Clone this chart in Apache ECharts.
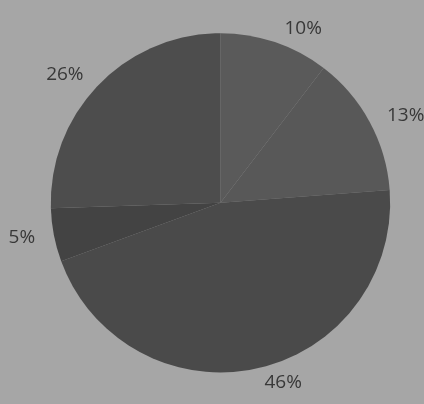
<!DOCTYPE html>
<html>
<head>
<meta charset="utf-8">
<script src="https://cdn.jsdelivr.net/npm/echarts@6/dist/echarts.min.js"></script>
<style>
html,body{margin:0;padding:0;background:#a6a6a6;}
#chart{width:424px;height:404px;}
</style>
</head>
<body>
<div id="chart"></div>
<script>
// Data (shares of the whole, labels show rounded %)
const categories = ['A', 'B', 'C', 'D', 'E'];
const values = [10.4, 13.4, 45.6, 5.1, 25.5];
const sliceColors = ['#5a5a5a', '#585858', '#4a4a4a', '#434343', '#4d4d4d'];

const chart = echarts.init(document.getElementById('chart'), null, {renderer: 'canvas'});
chart.setOption({
  backgroundColor: '#a6a6a6',
  animation: false,
  series: [{
    type: 'pie',
    center: ['52%', '50.2%'],
    radius: '84%',
    startAngle: 90,
    clockwise: true,
    avoidLabelOverlap: false,
    data: categories.map((c, i) => ({name: c, value: values[i], itemStyle: {color: sliceColors[i]}})),
    label: {
      show: true,
      position: 'outside',
      formatter: p => Math.round(p.value) + '%',
      fontFamily: 'Open Sans',
      fontSize: 19,
      color: '#383838'
    },
    labelLine: {show: false, length: 14, length2: 0},
    emphasis: {disabled: true}
  }]
});
</script>
</body>
</html>
